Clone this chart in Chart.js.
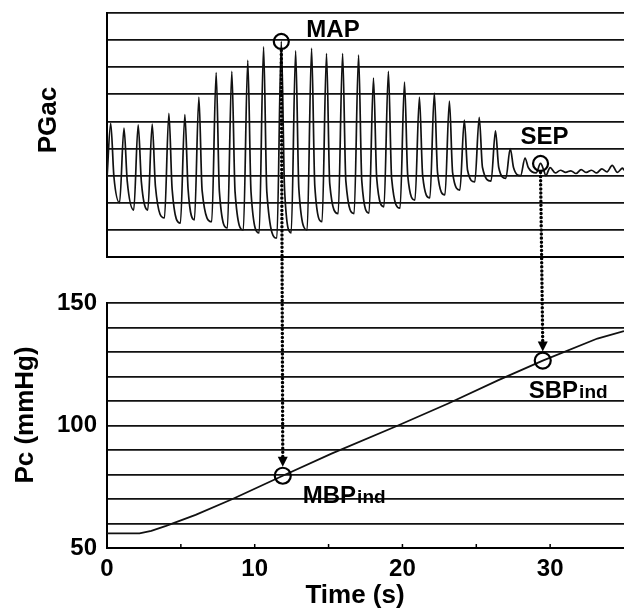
<!DOCTYPE html>
<html>
<head>
<meta charset="utf-8">
<script src="https://cdn.jsdelivr.net/npm/chart.js@4.4.1/dist/chart.umd.min.js"></script>
<style>
  html, body { margin: 0; padding: 0; background: #fff; }
  #wrap { position: relative; width: 624px; height: 611px; overflow: hidden; background: #fff; }
  canvas { position: absolute; left: 0; top: 0; }
</style>
</head>
<body>
<div id="wrap">
  <canvas id="pgacCanvas" width="624" height="270"></canvas>
  <canvas id="pcCanvas" width="624" height="611"></canvas>
</div>
<script>
// ======================================
// Data
// ======================================
// PGac oscillations: one entry per heart beat
const peakTimes   = [0.25, 1.15, 2.11, 3.06, 4.19, 5.27, 6.22, 7.39, 8.45, 9.53, 10.6, 11.8,
                     12.77, 13.85, 14.86, 15.95, 17.03, 18.04, 19.05, 20.14, 21.15, 22.16,
                     23.18, 24.19, 25.2, 26.3, 27.3, 28.3, 29.35];
const peakValues  = [4.93, 4.75, 4.87, 4.9, 5.3, 5.25, 5.9, 6.8, 6.85, 7.25, 7.75, 7.95,
                     7.6, 7.7, 7.5, 7.5, 7.45, 6.6, 6.85, 6.45, 5.9, 6.05,
                     5.75, 5.05, 5.15, 4.65, 4.0, 3.65, 3.45];
const notchValues = [2.95, 2.8, 2.75, 2.6, 2.5, 2.5, 2.45, 2.4, 2.4, 2.4, 2.4, 2.5,
                     2.5, 2.6, 2.7, 2.8, 2.8, 2.9, 2.9, 3.0, 3.0, 3.1,
                     3.1, 3.2, 3.3, 3.3, 3.3, 3.3, 3.2];
const troughValues = [2.0, 1.73, 1.73, 1.44, 1.25, 1.37, 1.3, 1.07, 1.0, 0.89, 0.7, 0.89,
                      1.0, 1.3, 1.6, 1.6, 1.62, 1.85, 1.8, 2.1, 2.18, 2.29,
                      2.47, 2.77, 2.8, 2.9, 3.0, 3.1, 3.0];
const pgacStart = 2.9;
// flat noisy tail after SEP
const tailTimes  = [30.0, 30.35, 30.7, 31.05, 31.4, 31.75, 32.1, 32.45, 32.8, 33.15, 33.5, 33.85, 34.2, 34.55, 34.9, 35.0];
const tailValues = [3.3, 3.1, 3.2, 3.12, 3.18, 3.08, 3.22, 3.12, 3.2, 3.1, 3.25, 3.14, 3.38, 3.12, 3.28, 3.2];

// cuff pressure Pc (mmHg)
const pcTimes  = [0, 2.2, 3, 4, 6, 8.5, 11.9, 15.2, 19.7, 23.1, 26.5, 29.5, 33.2, 35];
const pcValues = [56, 56, 57, 59, 63.5, 70, 79.5, 88.5, 100, 109, 118.5, 126.5, 135.5, 138.5];

// ticks
const xTickLabels  = [0, 10, 20, 30];
const xMinorTicks  = [5, 10, 15, 20, 25, 30];
const pcTickLabels = [50, 100, 150];

// indicated points
const mapIndex = 11;   // MAP peak on PGac
const sepIndex = 28;   // SEP on PGac
const mbpInd = {t: 11.9, v: 79.5};
const sbpInd = {t: 29.5, v: 126.5};

const FONT = "'Liberation Sans', Arial, Helvetica, sans-serif";
const INK = "#000";

// build the PGac trace from the per-beat values
const pgacPoints = [{x: 0, y: pgacStart}];
peakTimes.forEach((t, i) => {
    const next = i + 1 < peakTimes.length ? peakTimes[i + 1] : tailTimes[0];
    pgacPoints.push({x: t, y: peakValues[i]});
    pgacPoints.push({x: t + 0.22, y: notchValues[i]});
    pgacPoints.push({x: next - 0.3, y: troughValues[i]});
});
tailTimes.forEach((t, i) => pgacPoints.push({x: t, y: tailValues[i]}));

const pcPoints = pcTimes.map((t, i) => ({x: t, y: pcValues[i]}));

function noSidePadding(s) {
    s.paddingLeft = 0;
    s.paddingRight = 0;
}

// ======================================
// Top panel: PGac
// ======================================
const pgacChart = new Chart(document.getElementById("pgacCanvas"), {
    type: "line",
    data: {
        datasets: [{
            data: pgacPoints,
            borderColor: "#111",
            borderWidth: 1.7,
            pointRadius: 0,
            cubicInterpolationMode: "monotone"
        }]
    },
    options: {
        responsive: false,
        animation: false,
        events: [],
        layout: {padding: {top: 13, bottom: 13, left: 0, right: 0}},
        plugins: {legend: {display: false}, tooltip: {enabled: false}},
        scales: {
            x: {
                type: "linear", min: 0, max: 35,
                ticks: {display: false},
                grid: {display: false},
                border: {display: true, color: INK, width: 2},
                afterFit: s => { s.height = 0; noSidePadding(s); }
            },
            y: {
                min: 0, max: 9,
                ticks: {display: false, stepSize: 1, autoSkip: false},
                grid: {color: "#111", lineWidth: 1.7, drawTicks: false},
                border: {display: true, color: INK, width: 2},
                afterFit: s => { s.width = 107; }
            }
        }
    }
});

// ======================================
// Overlay: markers, arrows, labels, axis titles
// ======================================
function drawLabel(ctx, main, sub, x, baseline) {
    ctx.fillStyle = INK;
    ctx.textAlign = "left";
    ctx.textBaseline = "alphabetic";
    ctx.font = "bold 24px " + FONT;
    ctx.fillText(main, x, baseline);
    if (sub) {
        const w = ctx.measureText(main).width;
        ctx.font = "bold 19px " + FONT;
        ctx.fillText(sub, x + w + 1, baseline);
    }
}

function drawCircle(ctx, x, y, r) {
    ctx.beginPath();
    ctx.arc(x, y, r, 0, Math.PI * 2);
    ctx.lineWidth = 2.2;
    ctx.strokeStyle = INK;
    ctx.stroke();
}

function drawDottedArrow(ctx, x1, y1, x2, y2) {
    ctx.save();
    ctx.setLineDash([0.1, 4]);
    ctx.lineCap = "round";
    ctx.lineWidth = 3.4;
    ctx.strokeStyle = INK;
    ctx.beginPath();
    ctx.moveTo(x1, y1);
    ctx.lineTo(x2, y2 - 7);
    ctx.stroke();
    ctx.restore();
    ctx.beginPath();
    ctx.moveTo(x2, y2);
    ctx.lineTo(x2 - 5, y2 - 10);
    ctx.lineTo(x2 + 5, y2 - 10);
    ctx.closePath();
    ctx.fillStyle = INK;
    ctx.fill();
}

function drawRotated(ctx, text, x, y) {
    ctx.save();
    ctx.translate(x, y);
    ctx.rotate(-Math.PI / 2);
    ctx.textAlign = "center";
    ctx.textBaseline = "middle";
    ctx.font = "bold 26px " + FONT;
    ctx.fillStyle = INK;
    ctx.fillText(text, 0, 0);
    ctx.restore();
}

const overlay = {
    id: "overlay",
    afterDraw(chart) {
        const ctx = chart.ctx;
        const tx = pgacChart.scales.x, ty = pgacChart.scales.y;
        const bx = chart.scales.x, by = chart.scales.y;
        const r = 8;

        // minor tick marks on time axis
        ctx.strokeStyle = INK;
        ctx.lineWidth = 1.5;
        xMinorTicks.forEach(v => {
            const px = bx.getPixelForValue(v);
            ctx.beginPath();
            ctx.moveTo(px, by.bottom);
            ctx.lineTo(px, by.bottom - 4);
            ctx.stroke();
        });

        // MAP -> MBPind
        const mx = tx.getPixelForValue(peakTimes[mapIndex]);
        const my = ty.getPixelForValue(peakValues[mapIndex]);
        const mbx = bx.getPixelForValue(mbpInd.t);
        const mby = by.getPixelForValue(mbpInd.v);
        drawCircle(ctx, mx, my, 7.5);
        drawCircle(ctx, mbx, mby, r);
        drawDottedArrow(ctx, mx, my + 9, mbx, mby - r - 1);
        drawLabel(ctx, "MAP", "", mx + 25, my - 4);
        drawLabel(ctx, "MBP", "ind", mbx + 20, mby + 27);

        // SEP -> SBPind
        const sx = tx.getPixelForValue(peakTimes[sepIndex]);
        const sy = ty.getPixelForValue(peakValues[sepIndex]);
        const sbx = bx.getPixelForValue(sbpInd.t);
        const sby = by.getPixelForValue(sbpInd.v);
        drawCircle(ctx, sx, sy, 7.5);
        drawCircle(ctx, sbx, sby, r);
        drawDottedArrow(ctx, sx, sy + 9, sbx, sby - r - 1);
        drawLabel(ctx, "SEP", "", sx - 20, sy - 19);
        drawLabel(ctx, "SBP", "ind", sbx - 14, sby + 37);

        // axis titles
        drawRotated(ctx, "PGac", 49, 120);
        drawRotated(ctx, "Pc (mmHg)", 26, 415);
        ctx.font = "bold 26px " + FONT;
        ctx.textAlign = "center";
        ctx.textBaseline = "alphabetic";
        ctx.fillStyle = INK;
        ctx.fillText("Time (s)", 355, 603);
    }
};

// ======================================
// Bottom panel: Pc
// ======================================
const pcChart = new Chart(document.getElementById("pcCanvas"), {
    type: "line",
    data: {
        datasets: [{
            data: pcPoints,
            borderColor: "#111",
            borderWidth: 1.8,
            pointRadius: 0,
            tension: 0
        }]
    },
    options: {
        responsive: false,
        animation: false,
        events: [],
        layout: {padding: {top: 303, bottom: 0, left: 0, right: 0}},
        plugins: {legend: {display: false}, tooltip: {enabled: false}},
        scales: {
            x: {
                type: "linear", min: 0, max: 35,
                ticks: {
                    stepSize: 5,
                    autoSkip: false,
                    maxRotation: 0,
                    padding: -1,
                    color: INK,
                    font: {family: FONT, size: 24, weight: "bold"},
                    callback: v => xTickLabels.includes(v) ? String(v) : ""
                },
                grid: {display: false},
                border: {display: true, color: INK, width: 2},
                afterFit: s => { s.height = 63; noSidePadding(s); }
            },
            y: {
                min: 50, max: 150,
                ticks: {
                    stepSize: 10,
                    autoSkip: false,
                    padding: 10,
                    color: INK,
                    font: {family: FONT, size: 24, weight: "bold"},
                    callback: v => pcTickLabels.includes(v) ? String(v) : ""
                },
                grid: {color: "#111", lineWidth: 1.7, drawTicks: false},
                border: {display: true, color: INK, width: 2},
                afterFit: s => { s.width = 107; }
            }
        }
    },
    plugins: [overlay]
});
</script>
</body>
</html>
